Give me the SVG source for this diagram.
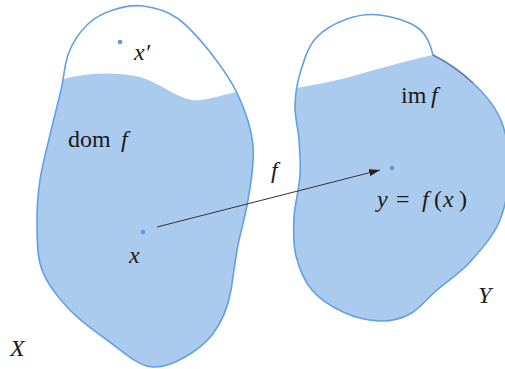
<svg xmlns="http://www.w3.org/2000/svg" xmlns:xlink="http://www.w3.org/1999/xlink" width="505" height="369" viewBox="0 0 505 369">
<style>
.outline{fill:none;stroke:#629fe5;stroke-width:1.6}
.blue{fill:#aacbee}
.dot{fill:#5f9be2}
.t{font-family:'Liberation Serif','Times New Roman',serif;font-size:24px;fill:#1a1a1a}
.i{font-style:italic}
.conn{stroke:#333;stroke-width:1;fill:none}
</style>
<defs>
<path id="shapeX" d="M143,6 C153.7,7.3 165.8,10.3 177,18 C188.2,25.7 199.8,39.2 210,52 C220.2,64.8 230.8,79.5 238,95 C245.2,110.5 251.3,127.5 253,145 C254.7,162.5 250.8,183.3 248,200 C245.2,216.7 241,230 238,245 C235,260 233.5,275 231,290 C228.5,305 222,322 212,335 C200,350 172,368 153,367 C137.2,366.2 121.3,350 107,340 C92.7,330 77.8,318.7 67,307 C56.2,295.3 47,283.7 42,270 C37,256.3 37.3,240 37,225 C36.7,210 37.8,195 40,180 C42.2,165 46.5,150 50,135 C53.5,120 57.8,103.8 61,90 C64.2,76.2 64.5,63 69,52 C73.5,41 80.7,31 88,24 C95.3,17 103.8,13 113,10 C122.2,7 132.3,4.7 143,6 Z"/>
<path id="shapeY" d="M380,15 C391.8,16.5 409.2,21.3 418,28 C426.8,34.7 430,44 433,55 C445,61 461.8,72.5 473,83 C484.2,93.5 494,104.3 500,118 C506,131.7 509,148 509,165 C509,182 506.5,203.8 500,220 C493.5,236.2 480.5,250.3 470,262 C459.5,273.7 447,281.3 437,290 C427,298.7 419.5,308.8 410,314 C400.5,319.2 391.2,321.3 380,321 C368.8,320.7 354.3,317.2 343,312 C331.7,306.8 319.8,299.3 312,290 C304.2,280.7 299,268 296,256 C293,244 293.3,231.5 294,218 C294.7,204.5 299.2,188 300,175 C300.8,162 299.8,151.7 299,140 C298.2,128.3 294.7,116.7 295,105 C295.3,93.3 297.5,81.2 301,70 C304.5,58.8 308.3,46.5 316,38 C323.7,29.5 336.3,22.8 347,19 C357.7,15.2 368.2,13.5 380,15 Z"/>
<clipPath id="clipX"><use xlink:href="#shapeX"/></clipPath>
<clipPath id="clipY"><use xlink:href="#shapeY"/></clipPath>
<marker id="arrow" markerUnits="userSpaceOnUse" markerWidth="11" markerHeight="7" refX="11" refY="3.5" orient="auto">
<path d="M0,0 L11,3.5 L0,7 Z" fill="#222"/>
</marker>
</defs>
<rect width="505" height="369" fill="#ffffff"/>
<g id="node-X">
<use xlink:href="#shapeX" fill="#ffffff"/>
<path class="blue" clip-path="url(#clipX)" d="M20,80 L63,79 C90,72 120,72 140,77 C160,83 175,97 192,100 C205,102 220,94 262,87 L262,369 L20,369 Z"/>
<use xlink:href="#shapeX" class="outline"/>
<circle class="dot" cx="120" cy="42" r="2.3"/>
<circle class="dot" cx="143" cy="232" r="2.3"/>
<text class="t i" x="134" y="60">x′</text>
<text class="t" x="68" y="147">dom</text>
<text class="t i" x="121" y="147">f</text>
<text class="t i" x="129" y="263">x</text>
<text class="t i" x="10" y="356">X</text>
</g>
<g id="node-Y">
<use xlink:href="#shapeY" fill="#ffffff"/>
<path class="blue" clip-path="url(#clipY)" d="M280,88 L296,88 C320,84 340,80 360,74 C385,67 410,60 433,55 L520,45 L520,369 L280,369 Z"/>
<use xlink:href="#shapeY" class="outline"/>
<path d="M433,55 C445,61 461.8,72.5 473,83" fill="none" stroke="#5f6f80" stroke-width="1.3" opacity="0.8"/>
<circle class="dot" cx="392" cy="168" r="2.3"/>
<text class="t" x="401" y="103">im</text>
<text class="t i" x="431" y="103">f</text>
<text class="t i" x="377" y="207">y</text>
<text class="t" x="396" y="207">=</text>
<text class="t i" x="422" y="207">f</text>
<text class="t" x="434" y="207">(</text>
<text class="t i" x="443" y="207">x</text>
<text class="t" x="459" y="207">)</text>
<text class="t i" x="478" y="303">Y</text>
</g>
<g id="connectors">
<line class="conn" x1="157" y1="227" x2="380" y2="170" marker-end="url(#arrow)"/>
<text class="t i" x="271" y="178">f</text>
</g>
</svg>
